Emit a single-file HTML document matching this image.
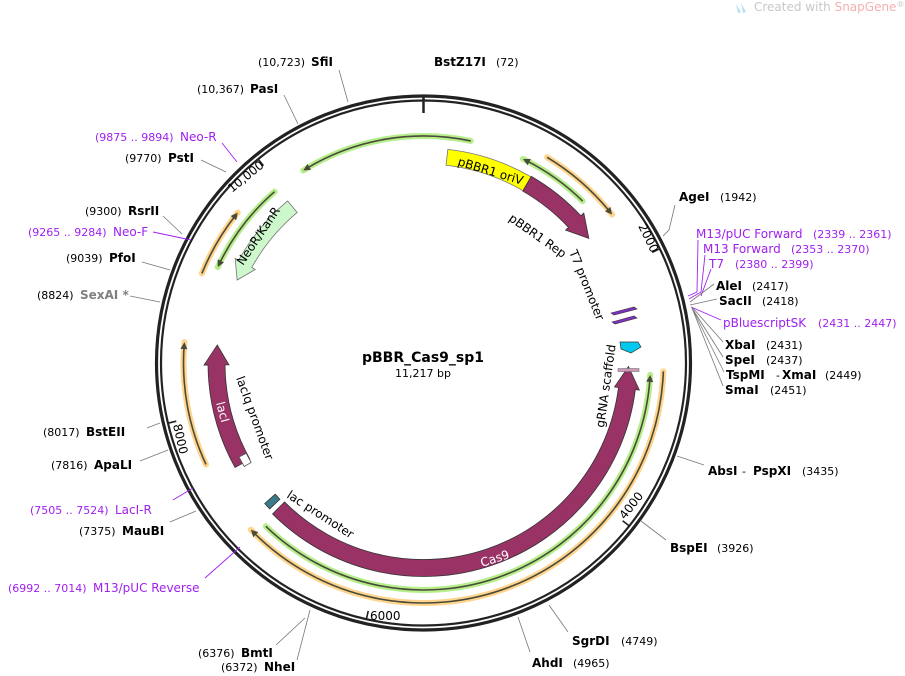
<!DOCTYPE html>
<html><head><meta charset="utf-8"><style>
html,body{margin:0;padding:0;background:#fff;}
svg{display:block;font-family:"DejaVu Sans","Liberation Sans",sans-serif;}
.b{font-weight:bold;font-size:12px;fill:#000}
.n{font-size:11px;fill:#000}
.p{font-size:12px;fill:#a020f0}
.ps{font-size:11px;fill:#a020f0}
.f{font-size:12px;fill:#000}
.l{stroke:#777;stroke-width:0.8;fill:none}
.lp{stroke:#a020f0;stroke-width:0.9;fill:none}
</style></head><body>
<svg id="s" width="905" height="676" viewBox="0 0 905 676" xmlns="http://www.w3.org/2000/svg">
<g id="shapes"></g>
<circle cx="423.5" cy="363" r="267" fill="none" stroke="#222" stroke-width="3.2"/>
<circle cx="423.5" cy="363" r="262.5" fill="none" stroke="#222" stroke-width="2.2"/>
<line x1="423.5" y1="97" x2="423.5" y2="113" stroke="#222" stroke-width="2.5"/>
<g id="ticks"></g>
<text x="638" y="226" class="f" transform="rotate(64 638 226)">2000</text>
<text x="625" y="520" class="f" transform="rotate(-52 625 520)">4000</text>
<text x="370" y="620" class="f">6000</text>
<text x="173" y="425" class="f" transform="rotate(77 173 425)">8000</text>
<text x="232" y="193" class="f" transform="rotate(-39 232 193)">10,000</text>

<!-- small features -->
<polygon points="611,313 634,307 637,309 614,315" fill="#8030c0" stroke="#333" stroke-width="0.6"/>
<polygon points="612,322 634,316 637,318 615,324" fill="#8030c0" stroke="#333" stroke-width="0.6"/>
<polygon points="620,342 638,342 641,347 631,353 621,349" fill="#00c8f0" stroke="#333" stroke-width="0.7"/>
<rect x="618" y="368.5" width="21" height="3" fill="#cc99bb" stroke="#777" stroke-width="0.6"/>

<text x="457" y="165" class="f" transform="rotate(17 457 165)">pBBR1 oriV</text>
<text x="508" y="220" class="f" transform="rotate(35 508 220)">pBBR1 Rep</text>
<text x="569" y="252" class="f" transform="rotate(68 569 252)">T7 promoter</text>
<text x="604" y="428" class="f" transform="rotate(-82 604 428)">gRNA scaffold</text>
<text x="482" y="567" class="f" transform="rotate(-18 482 567)" style="fill:#fff">Cas9</text>
<text x="286" y="497" class="f" transform="rotate(33 286 497)">lac promoter</text>
<text x="236" y="378" class="f" transform="rotate(70 236 378)">lacIq promoter</text>
<text x="216" y="403" class="f" transform="rotate(75 216 403)" style="fill:#fff">lacI</text>
<text x="243" y="266" class="f" transform="rotate(-56 243 266)">NeoR/KanR</text>

<text x="423" y="362" text-anchor="middle" style="font-weight:bold;font-size:14px">pBBR_Cas9_sp1</text>
<text x="423" y="377" text-anchor="middle" class="n">11,217 bp</text>

<path class="l" d="M339 70 L348 102"/>
<path class="l" d="M284 95 L298 124"/>
<path class="lp" d="M222 143 L237 162"/>
<path class="l" d="M201 160 L226 172"/>
<path class="l" d="M163 216 L182 234"/>
<path class="lp" d="M153 232 L191 240"/>
<path class="l" d="M142 262 L170 270"/>
<path class="l" d="M130 296 L160 302"/>
<path class="l" d="M147 428 L160 423"/>
<path class="l" d="M140 461 L168 450"/>
<path class="lp" d="M173 500 L193 488"/>
<path class="l" d="M170 522 L196 511"/>
<path class="lp" d="M205 578 L240 547"/>
<path class="l" d="M276 645 L305 618"/>
<path class="l" d="M297 660 L310 610"/>
<path class="l" d="M530 652 L518 617"/>
<path class="l" d="M568 632 L549 605"/>
<path class="l" d="M666 540 L641 521"/>
<path class="l" d="M704 465 L677 456"/>
<path class="l" d="M675 205 L669 230 L663 236"/>
<path class="lp" d="M698 240 L697 292 L688 296"/>
<path class="lp" d="M705 255 L701 292 L689 299"/>
<path class="lp" d="M711 269 L701 296"/>
<path class="l" d="M714 284 L690 302"/>
<path class="l" d="M717 299 L690 305"/>
<path class="lp" d="M721 320 L691 307"/>
<path class="l" d="M723 342 L692 307"/>
<path class="l" d="M723 357 L692 308"/>
<path class="l" d="M724 372 L692 308"/>
<path class="l" d="M723 386 L692 308"/>

<text x="258" y="66" class="n">(10,723)</text><text x="311" y="66" class="b">SfiI</text>
<text x="434" y="66" class="b">BstZ17I</text><text x="496" y="66" class="n">(72)</text>
<text x="197" y="93" class="n">(10,367)</text><text x="250" y="93" class="b">PasI</text>
<text x="95" y="141" class="ps">(9875 .. 9894)</text><text x="180" y="141" class="p">Neo-R</text>
<text x="125" y="162" class="n">(9770)</text><text x="168" y="162" class="b">PstI</text>
<text x="85" y="215" class="n">(9300)</text><text x="128" y="215" class="b">RsrII</text>
<text x="28" y="236" class="ps">(9265 .. 9284)</text><text x="113" y="236" class="p">Neo-F</text>
<text x="66" y="262" class="n">(9039)</text><text x="109" y="262" class="b">PfoI</text>
<text x="37" y="299" class="n">(8824)</text><text x="80" y="299" class="b" style="fill:#808080">SexAI *</text>
<text x="43" y="436" class="n">(8017)</text><text x="86" y="436" class="b">BstEII</text>
<text x="51" y="469" class="n">(7816)</text><text x="94" y="469" class="b">ApaLI</text>
<text x="30" y="514" class="ps">(7505 .. 7524)</text><text x="115" y="514" class="p">LacI-R</text>
<text x="79" y="535" class="n">(7375)</text><text x="122" y="535" class="b">MauBI</text>
<text x="8" y="592" class="ps">(6992 .. 7014)</text><text x="93" y="592" class="p">M13/pUC Reverse</text>
<text x="198" y="657" class="n">(6376)</text><text x="241" y="657" class="b">BmtI</text>
<text x="221" y="671" class="n">(6372)</text><text x="264" y="671" class="b">NheI</text>
<text x="532" y="667" class="b">AhdI</text><text x="573" y="667" class="n">(4965)</text>
<text x="572" y="645" class="b">SgrDI</text><text x="621" y="645" class="n">(4749)</text>
<text x="670" y="552" class="b">BspEI</text><text x="717" y="552" class="n">(3926)</text>
<text x="708" y="475" class="b">AbsI</text><text x="742" y="475" class="n">-</text><text x="753" y="475" class="b">PspXI</text><text x="802" y="475" class="n">(3435)</text>
<text x="679" y="201" class="b">AgeI</text><text x="720" y="201" class="n">(1942)</text>
<text x="696" y="238" class="p">M13/pUC Forward</text><text x="813" y="238" class="ps">(2339 .. 2361)</text>
<text x="703" y="253" class="p">M13 Forward</text><text x="791" y="253" class="ps">(2353 .. 2370)</text>
<text x="709" y="268" class="p">T7</text><text x="735" y="268" class="ps">(2380 .. 2399)</text>
<text x="716" y="290" class="b">AleI</text><text x="752" y="290" class="n">(2417)</text>
<text x="719" y="305" class="b">SacII</text><text x="762" y="305" class="n">(2418)</text>
<text x="723" y="327" class="p">pBluescriptSK</text><text x="818" y="327" class="ps">(2431 .. 2447)</text>
<text x="725" y="349" class="b">XbaI</text><text x="766" y="349" class="n">(2431)</text>
<text x="725" y="364" class="b">SpeI</text><text x="766" y="364" class="n">(2437)</text>
<text x="726" y="379" class="b">TspMI</text><text x="776" y="379" class="n">-</text><text x="782" y="379" class="b">XmaI</text><text x="825" y="379" class="n">(2449)</text>
<text x="725" y="394" class="b">SmaI</text><text x="770" y="394" class="n">(2451)</text>

<text x="754" y="11" style="font-size:12px;fill:#c8c8c8">Created with <tspan style="fill:#f4b0b0">SnapGene</tspan><tspan font-size="8" dy="-4">®</tspan></text>
<path d="M736 4 L741 12 L738 13 Z M741 3 L746 12 L743 13 Z" fill="#b8e0f0"/>
</svg>
<script>
var cx=423.5,cy=363,NS="http://www.w3.org/2000/svg",G=document.getElementById("shapes");
function P(r,a){a=a*Math.PI/180;return (cx+r*Math.sin(a)).toFixed(2)+" "+(cy-r*Math.cos(a)).toFixed(2);}
function add(tag,at,par){var e=document.createElementNS(NS,tag);for(var k in at)e.setAttribute(k,at[k]);(par||G).appendChild(e);return e;}
function arc(r,a1,a2){var lg=Math.abs(a2-a1)>180?1:0,sw=a2>a1?1:0;return "A"+r+" "+r+" 0 "+lg+" "+sw+" "+P(r,a2);}
function thick(r,w,a1,a2,head,fill,stroke,hl,ex){
 if(ex===undefined)ex=4;
 var hd=hl/r*180/Math.PI,o=r+w/2,i=r-w/2,d;
 if(head==="end"){var b=a2-hd;d="M"+P(o,a1)+arc(o,a1,b)+"L"+P(o+ex,b)+"L"+P(r,a2)+"L"+P(i-ex,b)+"L"+P(i,b)+arc(i,b,a1)+"Z";}
 else if(head==="start"){var b=a1+hd;d="M"+P(r,a1)+"L"+P(o+ex,b)+"L"+P(o,b)+arc(o,b,a2)+"L"+P(i,a2)+arc(i,a2,b)+"L"+P(i-ex,b)+"Z";}
 else {d="M"+P(o,a1)+arc(o,a1,a2)+"L"+P(i,a2)+arc(i,a2,a1)+"Z";}
 add("path",{d:d,fill:fill,stroke:stroke,"stroke-width":0.8});
}
function thin(r,a1,a2,head,halo){
 var hd=7/r*180/Math.PI;var s=a1,e=a2;if(head==="end")e=a2-hd*0.6;else s=a1+hd*0.6;
 add("path",{d:"M"+P(r,a1)+arc(r,a1,a2),stroke:halo,"stroke-width":6,fill:"none","stroke-linecap":"round"});
 add("path",{d:"M"+P(r,s)+arc(r,s,e),stroke:"#4a4a3a","stroke-width":1.6,fill:"none"});
 var t,b;if(head==="end"){t=a2;b=a2-hd;}else{t=a1;b=a1+hd;}
 add("path",{d:"M"+P(r,t)+"L"+P(r+3.5,b)+"L"+P(r-3.5,b)+"Z",fill:"#4a4a3a"});
}
var GR="#b6ee8c",OR="#ffd48c";
thin(227,328,372,"start",GR);
thin(227,26,44.5,"start",GR);
thin(240,31,51.8,"end",OR);
thin(227,93,224,"start",GR);
thin(240,92,226,"end",OR);
thin(240,245,275,"end",OR);
thin(227,295,319,"start",GR);
thin(239,292,309,"end",OR);
thick(207,16,6.5,30,"none","#ffff00","#777",0);
thick(207,17,30,53,"end","#993366","#333",22);
thick(205,17,91,225,"start","#993366","#333",22);
thick(207,17,241,275,"end","#993366","#333",20);
thick(204,15,294,320,"start","#ccf8cc","#777",18);
thick(205,14,226.5,228.5,"none","#3a7a8a","#333",0);
thick(203,8,240,243,"none","#fff","#555",0);
var T=document.getElementById("ticks");
[2000,4000,6000,8000,10000].forEach(function(v){var a=v/11217*360;add("path",{d:"M"+P(262,a)+"L"+P(254,a),stroke:"#222","stroke-width":1.6},T);});
</script>
</body></html>
